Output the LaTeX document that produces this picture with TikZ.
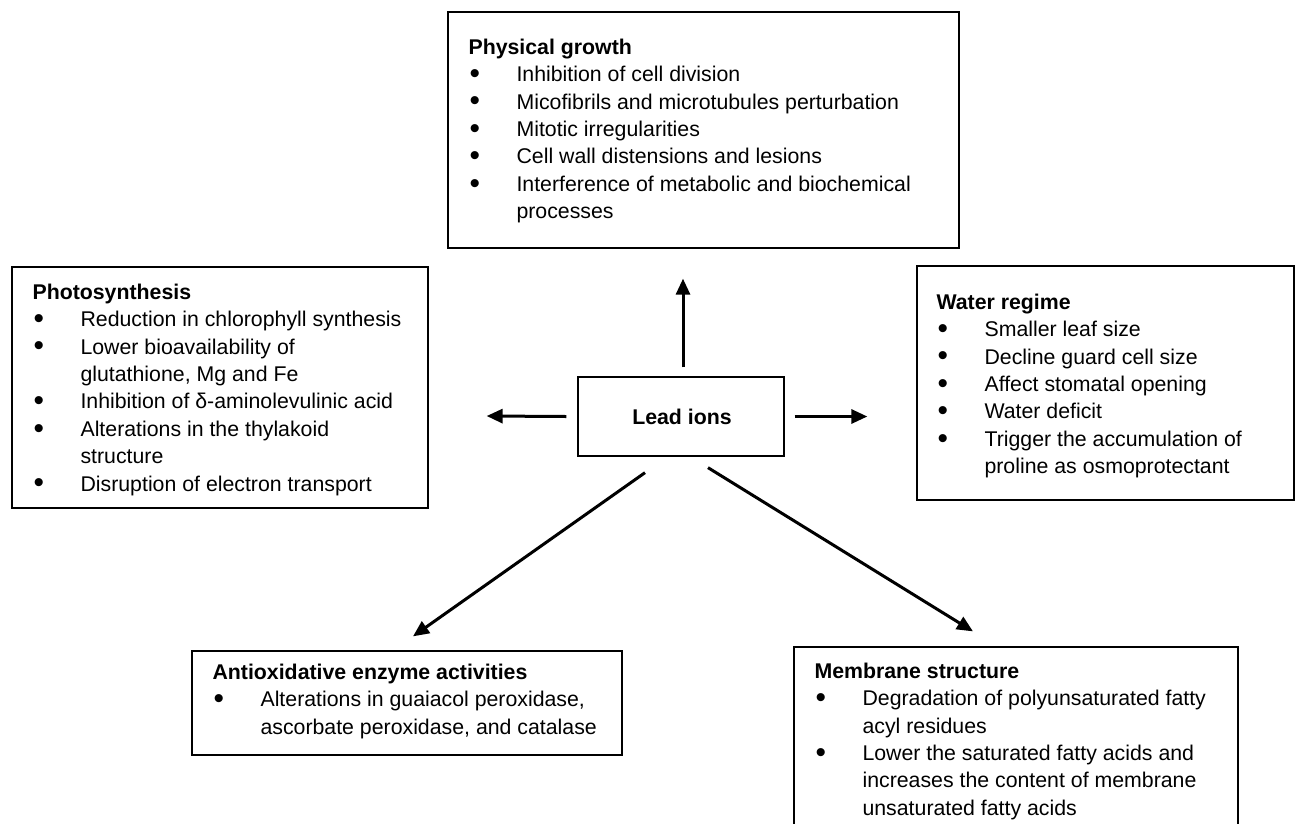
\documentclass[tikz,border=0pt]{standalone}
\usepackage{fontspec}
\usepackage{graphicx}
\setmainfont{Liberation Sans}
\usetikzlibrary{arrows.meta}
\newcommand{\bul}{\hspace*{1pt}\raisebox{-1.8pt}{\scalebox{1.4}{\textbullet}}}
\begin{document}
\begin{tikzpicture}[x=1pt,y=-1pt,
  box/.style={draw=black, line width=1.3pt, rectangle, inner sep=0pt},
  txt/.style={anchor=base west, inner sep=0pt, font=\fontsize{21.3}{27.4}\selectfont},
  arr/.style={line width=3pt, -{Triangle[length=16pt,width=14pt]}}]
\useasboundingbox (0,0) rectangle (1296,823);
% boxes
\node[box, minimum width=511pt, minimum height=236pt] (phys) at (703.5,130) {};
\node[box, minimum width=416pt, minimum height=241pt] (photo) at (220,387.5) {};
\node[box, minimum width=206pt, minimum height=79pt] (lead) at (681,416.5) {};
\node[box, minimum width=377pt, minimum height=234pt] (water) at (1105.5,383) {};
\node[box, minimum width=430pt, minimum height=104pt] (anti) at (407,703) {};
\node[box, minimum width=444pt, minimum height=193pt] (memb) at (1016,743.5) {};
% texts
\node[font=\fontsize{21.3}{27.4}\selectfont\bfseries, inner sep=0pt] (leadtxt) at (682,417) {Lead ions};
\node[txt] (physt) at ([shift={(21,43)}]phys.north west) {\begin{tabular}[t]{@{}p{48pt}@{}l@{}}
\multicolumn{2}{@{}l@{}}{\textbf{Physical growth}}\\
\bul & Inhibition of cell division\\
\bul & Micofibrils and microtubules perturbation\\
\bul & Mitotic irregularities\\
\bul & Cell wall distensions and lesions\\
\bul & Interference of metabolic and biochemical\\
 & processes
\end{tabular}};
\node[txt] (photot) at ([shift={(21,33)}]photo.north west) {\begin{tabular}[t]{@{}p{48pt}@{}l@{}}
\multicolumn{2}{@{}l@{}}{\textbf{Photosynthesis}}\\
\bul & Reduction in chlorophyll synthesis\\
\bul & Lower bioavailability of\\
 & glutathione, Mg and Fe\\
\bul & Inhibition of δ-aminolevulinic acid\\
\bul & Alterations in the thylakoid\\
 & structure\\
\bul & Disruption of electron transport
\end{tabular}};
\node[txt] (watert) at ([shift={(20,44)}]water.north west) {\begin{tabular}[t]{@{}p{48pt}@{}l@{}}
\multicolumn{2}{@{}l@{}}{\textbf{Water regime}}\\
\bul & Smaller leaf size\\
\bul & Decline guard cell size\\
\bul & Affect stomatal opening\\
\bul & Water deficit\\
\bul & Trigger the accumulation of\\
 & proline as osmoprotectant
\end{tabular}};
\node[txt] (antit) at ([shift={(21,29)}]anti.north west) {\begin{tabular}[t]{@{}p{48pt}@{}l@{}}
\multicolumn{2}{@{}l@{}}{\textbf{Antioxidative enzyme activities}}\\
\bul & Alterations in guaiacol peroxidase,\\
 & ascorbate peroxidase, and catalase
\end{tabular}};
\node[txt] (membt) at ([shift={(21,32)}]memb.north west) {\begin{tabular}[t]{@{}p{48pt}@{}l@{}}
\multicolumn{2}{@{}l@{}}{\textbf{Membrane structure}}\\
\bul & Degradation of polyunsaturated fatty\\
 & acyl residues\\
\bul & Lower the saturated fatty acids and\\
 & increases the content of membrane\\
 & unsaturated fatty acids
\end{tabular}};
% arrows
\draw[arr] ([shift={(2,-9)}]lead.north) -- ([shift={(-20.5,30)}]phys.south);
\draw[arr] ([shift={(-11,0)}]lead.west) -- ([shift={(58,28.5)}]photo.east);
\draw[arr] ([shift={(10,0)}]lead.east) -- ([shift={(-49,33.5)}]water.west);
\draw[arr] ([shift={(-36,16)}]lead.south) -- ([shift={(6,-14)}]anti.north);
\draw[arr] ([shift={(27,11)}]lead.south) -- ([shift={(-43,-15)}]memb.north);
\end{tikzpicture}
\end{document}
